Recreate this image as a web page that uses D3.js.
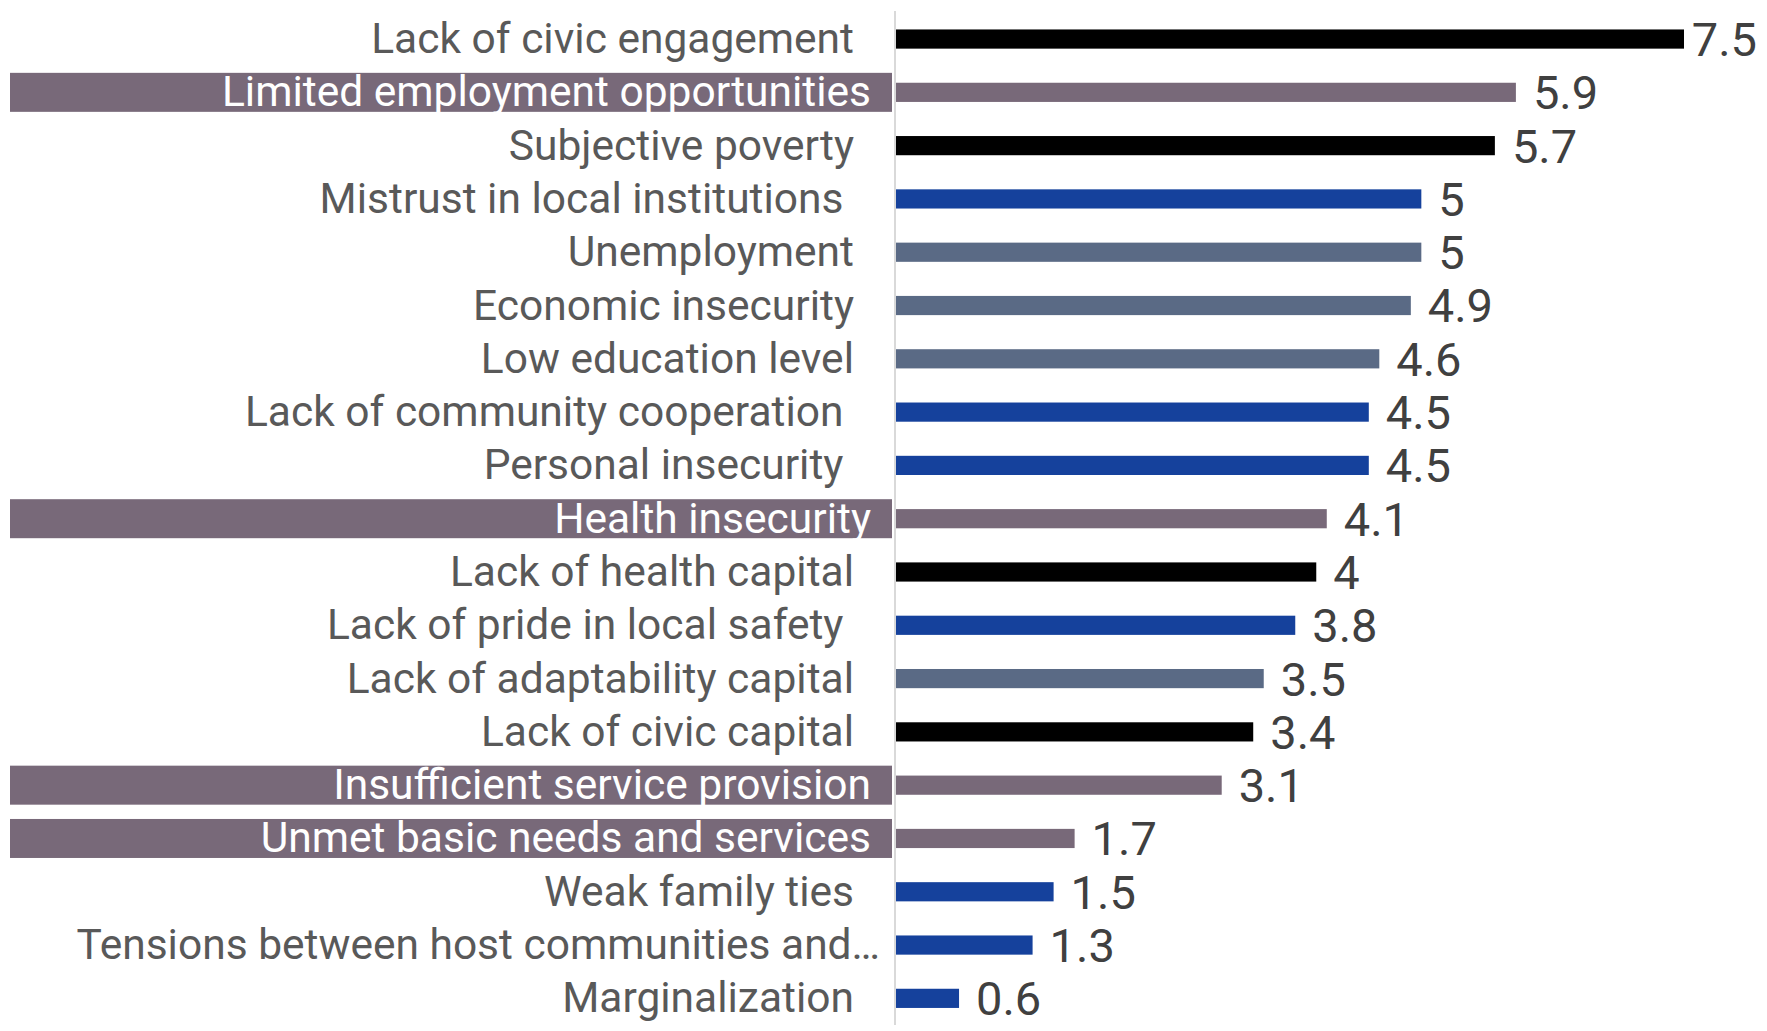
<!DOCTYPE html>
<html>
<head>
<meta charset="utf-8">
<script src="https://cdn.jsdelivr.net/npm/d3@7"></script>
<style>
  html, body { margin: 0; padding: 0; background: #ffffff; }
  svg { display: block; font-family: Roboto, "Noto Sans", sans-serif; }
  .cat { white-space: pre; }
</style>
</head>
<body>
<svg id="chart" width="1767" height="1031"></svg>
<script>
// Categories, top to bottom
const categories = [
  "Lack of civic engagement",
  "Limited employment opportunities",
  "Subjective poverty",
  "Mistrust in local institutions ",
  "Unemployment",
  "Economic insecurity",
  "Low education level",
  "Lack of community cooperation ",
  "Personal insecurity ",
  "Health insecurity",
  "Lack of health capital",
  "Lack of pride in local safety ",
  "Lack of adaptability capital",
  "Lack of civic capital",
  "Insufficient service provision",
  "Unmet basic needs and services",
  "Weak family ties",
  "Tensions between host communities and…",
  "Marginalization"
];

const values = [7.5, 5.9, 5.7, 5, 5, 4.9, 4.6, 4.5, 4.5, 4.1, 4, 3.8, 3.5, 3.4, 3.1, 1.7, 1.5, 1.3, 0.6];

// Group of each indicator (drives the bar colour)
const groups = [
  "capital", "services", "capital", "social", "economic", "economic", "economic",
  "social", "social", "services", "capital", "social", "economic", "capital",
  "services", "services", "social", "social", "social"
];

// Rows whose label is shown on a highlighted band
const highlighted = [
  "Limited employment opportunities",
  "Health insecurity",
  "Insufficient service provision",
  "Unmet basic needs and services"
];

const groupColor = {
  capital: "#000000",
  services: "#786979",
  social: "#15419c",
  economic: "#5a6a85"
};

const rows = categories.map((c, i) => ({ label: c, value: values[i], group: groups[i] }));

const svg = d3.select("#chart");
const axisX = 895;
const labelRight = 854;
const rightLimit = 1757;

const y = d3.scaleBand()
  .domain(categories)
  .range([12.4, 1025])
  .paddingInner(0.64)
  .paddingOuter(0.32);

const x = d3.scaleLinear()
  .domain([0, 7.5])
  .range([axisX + 1, 1684]);

// Highlight bands behind selected labels
svg.append("g")
  .selectAll("rect")
  .data(rows.filter(d => highlighted.includes(d.label)))
  .join("rect")
  .attr("x", 10)
  .attr("width", axisX - 3 - 10)
  .attr("y", d => y(d.label) + y.bandwidth() / 2 - 19.5)
  .attr("height", 39)
  .attr("fill", "#786979");

// Category labels
svg.append("g")
  .selectAll("text")
  .data(rows)
  .join("text")
  .attr("class", "cat")
  .attr("x", d => highlighted.includes(d.label) ? 871 : (d.label.endsWith("…") ? 880 : labelRight))
  .attr("y", d => y(d.label) + y.bandwidth() / 2)
  .attr("dy", "0.33em")
  .attr("text-anchor", "end")
  .attr("font-size", 42.5)
  .attr("fill", d => highlighted.includes(d.label) ? "#ffffff" : "#595959")
  .text(d => d.label);

// Bars
svg.append("g")
  .selectAll("rect")
  .data(rows)
  .join("rect")
  .attr("x", x(0))
  .attr("y", d => y(d.label))
  .attr("width", d => x(d.value) - x(0))
  .attr("height", y.bandwidth())
  .attr("fill", d => groupColor[d.group]);

// Vertical axis line
svg.append("line")
  .attr("x1", axisX).attr("x2", axisX)
  .attr("y1", 11).attr("y2", 1025)
  .attr("stroke", "#d9d9d9")
  .attr("stroke-width", 2);

// Value labels, kept inside the drawing area
svg.append("g")
  .selectAll("text")
  .data(rows)
  .join("text")
  .attr("y", d => y(d.label) + y.bandwidth() / 2)
  .attr("dy", "0.36em")
  .attr("font-size", 47)
  .attr("fill", "#404040")
  .text(d => d3.format("~g")(d.value))
  .each(function (d) {
    const w = this.getComputedTextLength();
    const pos = Math.min(x(d.value) + 17, rightLimit - w);
    d3.select(this).attr("x", pos);
  });
</script>
</body>
</html>
